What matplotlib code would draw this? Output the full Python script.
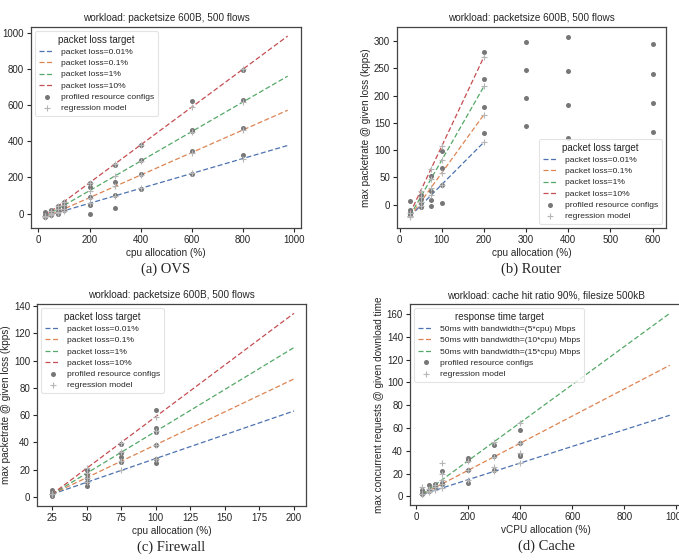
import matplotlib
matplotlib.use('Agg')
import matplotlib.pyplot as plt
import seaborn as sns
import numpy as np

sns.set_style('ticks')
plt.rcParams['font.family'] = ['Liberation Sans', 'DejaVu Sans']

colors = ['#4C72B0', '#DD8452', '#55A868', '#C44E52']
loss_labels = ['packet loss=0.01%', 'packet loss=0.1%', 'packet loss=1%', 'packet loss=10%']
cache_labels = ['50ms with bandwidth=(5*cpu) Mbps', '50ms with bandwidth=(10*cpu) Mbps',
                '50ms with bandwidth=(15*cpu) Mbps']

# OVS
ovs_x = [25, 50, 75, 100, 200, 300, 400, 600, 800]
ovs_pts = [[8, -5, -15, -20], [22, 15, 5, -5], [40, 25, 10, 0], [65, 50, 35, 20],
           [170, 145, 92, 48, -4], [271, 175, 101, 33], [381, 295, 217, 138],
           [620, 464, 455, 344, 221], [794, 630, 473, 326]]
ovs_slope = [0.412, 0.623, 0.816, 1.045]
ovs_icpt = [-25, -36, -36, -38]
ovs_range = [25, 975]

# Router
rt_x = [25, 50, 75, 100, 200, 300, 400, 600]
rt_pts = [[7, -10, -15, -20], [18, 10, 2, -5], [52, 24, 8, -3], [99, 67, 35, 3],
          [280, 230, 180, 131], [299, 247, 195, 144], [307, 245, 183, 122],
          [294, 240, 187, 134]]
rt_slope = [0.777, 1.07, 1.354, 1.64]
rt_icpt = [-41, -49, -54, -57]
rt_range = [25, 200]
rt_fit_x = [25, 50, 75, 100, 200]

# Firewall
fw_x = [25, 50, 75, 100]
fw_pts = [[5.5, 3, 1.5, 1], [20, 17, 14, 11, 8], [39, 32, 29, 26], [64, 50.5, 48, 38, 28, 25]]
fw_slope = [0.349, 0.483, 0.615, 0.758]
fw_icpt = [-6.7, -10, -13.4, -16.9]
fw_range = [25, 200]

# Cache
ca_x = [25, 50, 75, 100, 200, 300, 400]
ca_pts = [[6, 3, 2], [10, 6, 5], [11, 9, 8], [22, 12, 11], [34, 32, 23, 12],
          [45, 35, 23], [58, 47, 36, 35]]
ca_slope = [0.073, 0.119, 0.167]
ca_icpt = [0.0, -1.0, -2.2]
ca_range = [25, 975]
ca_extra_x = [25, 100, 100, 300, 400]
ca_extra_y = [8, 29, 20, 26, 38]


def draw(ax, xs, pts, slopes, icpts, xrange_, labels, fit_x=None, extra=None):
    if fit_x is None:
        fit_x = xs
    fx = np.array(xrange_, dtype=float)
    for i, (m, b) in enumerate(zip(slopes, icpts)):
        ax.plot(fx, m * fx + b, '--', color=colors[i], lw=0.9, label=labels[i], dashes=(4, 2))
    px, py = [], []
    for x, ys in zip(xs, pts):
        for y in ys:
            px.append(x)
            py.append(y)
    ax.scatter(px, py, s=13, color='#777777', label='profiled resource configs', zorder=3,
               linewidths=0)
    rx, ry = [], []
    for m, b in zip(slopes, icpts):
        for x in fit_x:
            rx.append(x)
            ry.append(m * x + b)
    if extra is not None:
        rx += extra[0]
        ry += extra[1]
    ax.scatter(rx, ry, s=24, marker='+', color='#b5b5b5', label='regression model', zorder=4,
               linewidths=0.8)


def style(ax, title, xlabel, ylabel, caption):
    ax.set_title(title, fontsize=7.2, pad=4)
    ax.set_xlabel(xlabel, fontsize=7.2, labelpad=2)
    ax.set_ylabel(ylabel, fontsize=7.2, labelpad=2)
    ax.tick_params(labelsize=7, length=3, width=0.8, pad=2)
    for s in ax.spines.values():
        s.set_color('#444444')
        s.set_linewidth(0.9)
    ax.text(0.5, -0.17, caption, transform=ax.transAxes, ha='center', va='top',
            fontsize=10.5, family=['Liberation Serif', 'DejaVu Serif'])


def legend(ax, title, loc):
    lg = ax.legend(title=title, loc=loc, fontsize=6.1, title_fontsize=7, handlelength=1.8,
                   labelspacing=0.38, borderpad=0.45, handletextpad=0.8, frameon=True)
    lg.get_frame().set_edgecolor('#dddddd')
    lg.get_frame().set_linewidth(0.8)


fig = plt.figure(figsize=(6.79, 5.60), dpi=100)

ax1 = fig.add_axes([0.0457, 0.5929, 0.3976, 0.3589])
draw(ax1, ovs_x, ovs_pts, ovs_slope, ovs_icpt, ovs_range, loss_labels)
ax1.set_xlim(-29, 1027)
ax1.set_ylim(-79, 1031)
ax1.set_xticks([0, 200, 400, 600, 800, 1000])
ax1.set_yticks([0, 200, 400, 600, 800, 1000])
style(ax1, 'workload: packetsize 600B, 500 flows', 'cpu allocation (%)',
      'max packetrate @ given loss (kpps)', '(a) OVS')
legend(ax1, 'packet loss target', 'upper left')

ax2 = fig.add_axes([0.5847, 0.5929, 0.3962, 0.3589])
draw(ax2, rt_x, rt_pts, rt_slope, rt_icpt, rt_range, loss_labels, fit_x=rt_fit_x)
ax2.set_xlim(-6, 632)
ax2.set_ylim(-43, 326)
ax2.set_xticks([0, 100, 200, 300, 400, 500, 600])
ax2.set_yticks([0, 50, 100, 150, 200, 250, 300])
style(ax2, 'workload: packetsize 600B, 500 flows', 'cpu allocation (%)',
      'max packetrate @ given loss (kpps)', '(b) Router')
legend(ax2, 'packet loss target', 'lower right')

ax3 = fig.add_axes([0.0545, 0.0964, 0.3962, 0.3607])
draw(ax3, fw_x, fw_pts, fw_slope, fw_icpt, fw_range, loss_labels)
ax3.set_xlim(14.2, 208.7)
ax3.set_ylim(-6.6, 141.5)
ax3.set_xticks([25, 50, 75, 100, 125, 150, 175, 200])
ax3.set_yticks([0, 20, 40, 60, 80, 100, 120, 140])
style(ax3, 'workload: packetsize 600B, 500 flows', 'cpu allocation (%)',
      'max packetrate @ given loss (kpps)', '(c) Firewall')
legend(ax3, 'packet loss target', 'upper left')

ax4 = fig.add_axes([0.6038, 0.0982, 0.4006, 0.3589])
draw(ax4, ca_x, ca_pts, ca_slope, ca_icpt, ca_range, cache_labels,
     extra=(ca_extra_x, ca_extra_y))
ax4.set_xlim(-23, 1022)
ax4.set_ylim(-7.6, 168.8)
ax4.set_xticks([0, 200, 400, 600, 800, 1000])
ax4.set_yticks([0, 20, 40, 60, 80, 100, 120, 140, 160])
style(ax4, 'workload: cache hit ratio 90%, filesize 500kB', 'vCPU allocation (%)',
      'max concurrent requests @ given download time', '(d) Cache')
legend(ax4, 'response time target', 'upper left')

fig.savefig('out.png', dpi=100)
